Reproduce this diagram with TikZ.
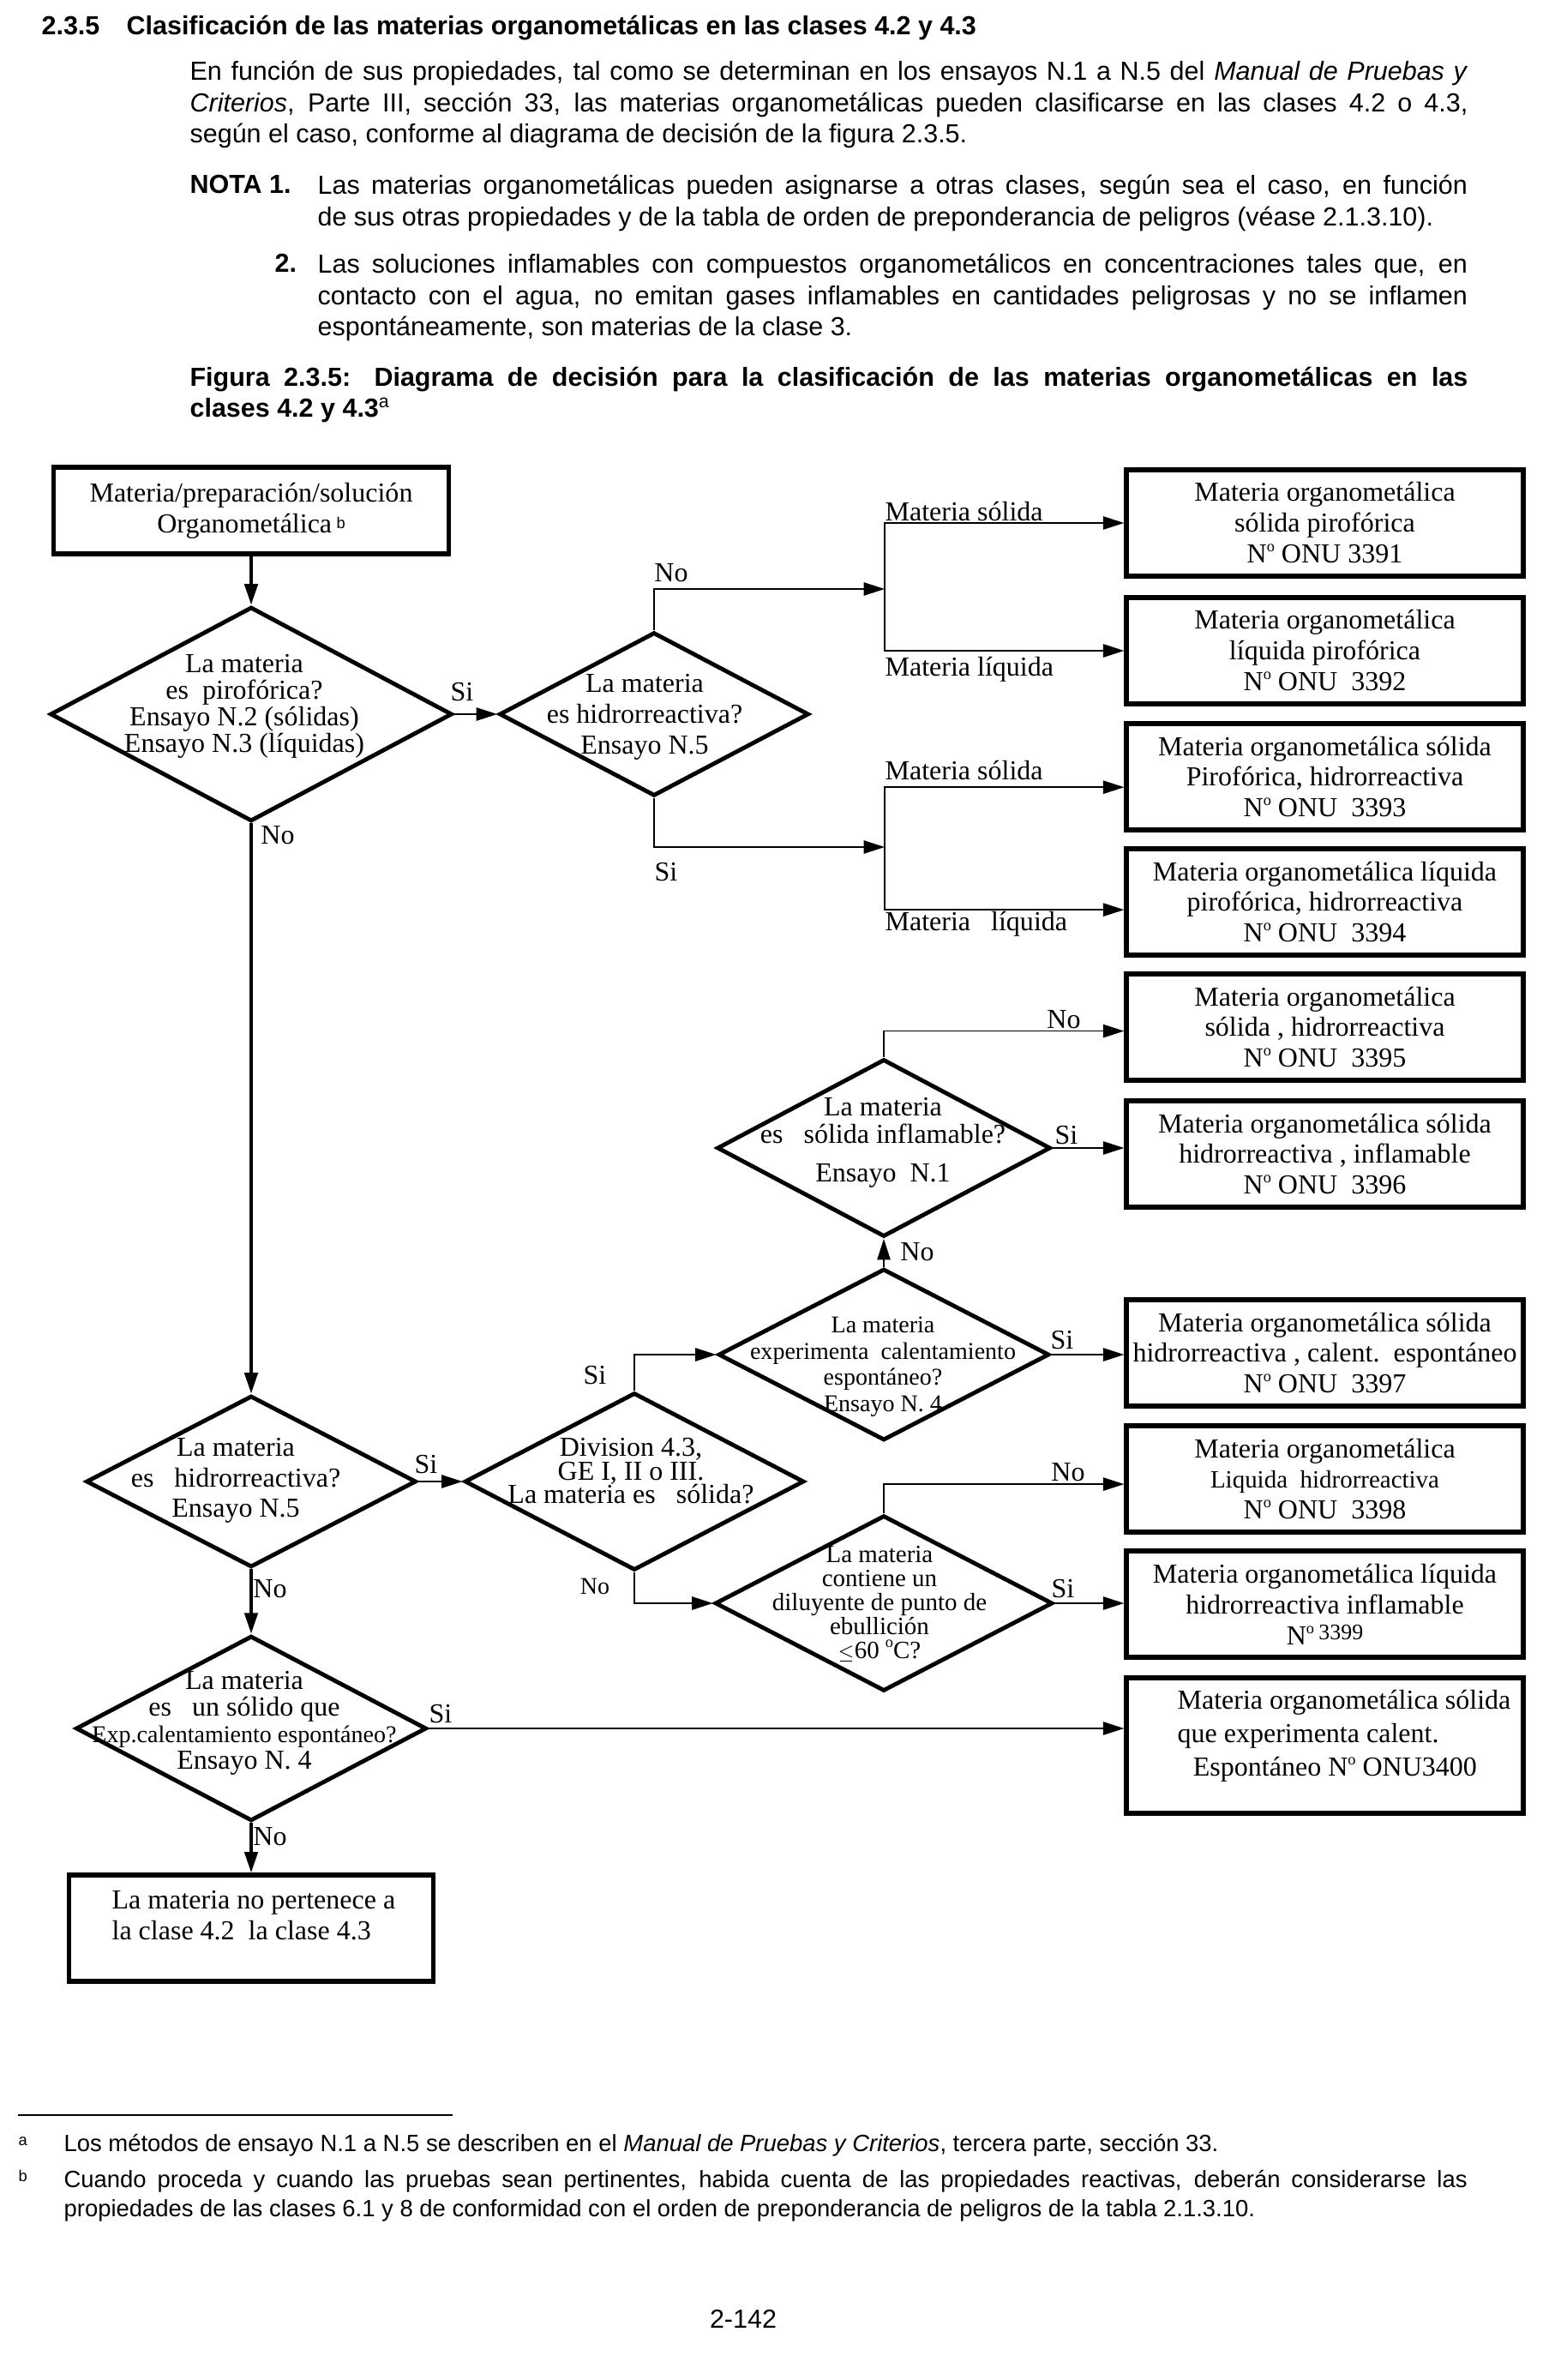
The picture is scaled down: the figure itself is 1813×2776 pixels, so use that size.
\documentclass[tikz,border=0pt]{standalone}
\usepackage{fontspec}
\setmainfont{Liberation Serif}
\setsansfont{Liberation Sans}
\usetikzlibrary{arrows.meta, shapes.geometric, positioning}

\newcommand{\chartfont}{\fontsize{10.5}{11.8}\selectfont}
\newcommand{\chartsmall}{\fontsize{9.2}{10}\selectfont}
\newcommand{\bodyfont}{\sffamily\fontsize{10}{11.9}\selectfont}
\newcommand{\notefont}{\sffamily\fontsize{9}{11.2}\selectfont}
\newcommand{\supo}{\raisebox{4.3pt}{\fontsize{6}{6}\selectfont o}}
\newcommand{\ordo}{N\supo}

\begin{document}
\begin{tikzpicture}[
  x=0.328pt, y=-0.328pt,
  >={Triangle[length=8pt, width=5pt]},
  startbox/.style={draw, line width=1.7pt, minimum width=151.2pt, minimum height=33.1pt,
    inner sep=0pt, align=center, font=\chartfont},
  unbox/.style={draw, line width=1.7pt, minimum width=151.9pt, minimum height=40.7pt,
    inner sep=0pt, align=center, font=\chartfont},
  decision/.style={draw, diamond, line width=1.6pt, inner sep=0pt},
  dtext/.style={align=center, font=\chartfont, inner sep=0pt},
  edgelbl/.style={font=\chartfont, inner sep=0pt},
  mainarrow/.style={->, line width=1.3pt},
  sidearrow/.style={->, line width=0.6pt},
  bodytxt/.style={anchor=north west, inner sep=0pt, align=justify, font=\bodyfont},
]

% Page
\fill[white] (0,0) rectangle (1813,2776);
\useasboundingbox (0,0) rectangle (1813,2776);

% === Heading and notes ===
\node[anchor=base west, inner sep=0pt, font=\bodyfont\bfseries] (secnum) at (48,41) {2.3.5};
\node[anchor=base west, inner sep=0pt, font=\bodyfont\bfseries] (sectitle) at (147,41)
  {Clasificación de las materias organometálicas en las clases 4.2 y 4.3};

\node[bodytxt, text width=489pt] (intro) at (221,68)
  {\noindent\strut En función de sus propiedades, tal como se determinan en los ensayos N.1 a N.5 del \textit{Manual de Pruebas y}\linebreak
   \textit{Criterios}, Parte III, sección 33, las materias organometálicas pueden clasificarse en las clases 4.2 o 4.3,\linebreak
   según el caso, conforme al diagrama de decisión de la figura 2.3.5.};

\node[anchor=base west, inner sep=0pt, font=\bodyfont\bfseries] (notaone) at (221,226) {NOTA 1.};
\node[bodytxt, text width=440pt] (notaonetxt) at (370,201)
  {\noindent\strut\parfillskip=0pt Las materias organometálicas pueden asignarse a otras clases, según sea el caso, en función\linebreak
   de sus otras propiedades y de la tabla de orden de preponderancia de peligros (véase 2.1.3.10).};

\node[anchor=base west, inner sep=0pt, font=\bodyfont\bfseries] (notatwo) at (320,318) {2.};
\node[bodytxt, text width=440pt] (notatwotxt) at (370,293)
  {\noindent\strut Las soluciones inflamables con compuestos organometálicos en concentraciones tales que, en\linebreak
   contacto con el agua, no emitan gases inflamables en cantidades peligrosas y no se inflamen\linebreak
   espontáneamente, son materias de la clase 3.};

\node[bodytxt, text width=489pt, font=\bodyfont\bfseries] (figcap) at (221,424)
  {\noindent\strut Figura 2.3.5: Diagrama de decisión para la clasificación de las materias organometálicas en las\linebreak
   clases 4.2 y 4.3\textsuperscript{\mdseries a}};

% === Left column ===
\node[startbox] (start) at (293,595.5)
  {Materia/preparación/solución\\Organometálica\,\raisebox{1.5pt}{\sffamily\fontsize{6}{6}\selectfont b}};

\node[decision, minimum width=153.8pt, minimum height=82pt] (pyro) at (293,833) {};
\node[dtext, font=\fontsize{10.5}{10.2}\selectfont] (pyrotxt) at (285,824)
  {La materia\\es\ \ pirofórica?\\Ensayo N.2 (sólidas)\\Ensayo N.3 (líquidas)};

\node[decision, minimum width=126.3pt, minimum height=65.6pt] (water2) at (293,1728) {};
\node[dtext, font=\fontsize{10.5}{11.6}\selectfont] (water2txt) at (275,1727)
  {La materia\\es\ \ \ hidrorreactiva?\\Ensayo N.5};

\node[decision, minimum width=134.2pt, minimum height=70.8pt] (selfheat) at (293,2016) {};
\node[dtext, font=\fontsize{10.5}{10.2}\selectfont] (selfheattxt) at (285,2010)
  {La materia\\es\ \ \ un sólido que\\{\fontsize{9.2}{10.2}\selectfont Exp.calentamiento espontáneo?}\\Ensayo N. 4};

\node[unbox, minimum width=139.4pt] (none) at (293,2249) {};
\node[anchor=west, align=left, inner sep=0pt, font=\chartfont] (nonetxt) at (130,2234)
  {La materia no pertenece a\\la clase 4.2\ \ la clase 4.3};

% === Middle column ===
\node[decision, minimum width=118.4pt, minimum height=62.6pt] (water) at (763,833) {};
\node[dtext] (watertxt) at (752,836) {La materia\\es hidrorreactiva?\\Ensayo N.5};

\node[decision, minimum width=129.9pt, minimum height=67.9pt] (div43) at (740,1728) {};
\node[dtext, font=\fontsize{10.5}{9}\selectfont] (div43txt) at (736,1716)
  {Division 4.3,\\GE I, II o III.\\La materia es\ \ \ sólida?};

\node[decision, minimum width=127.6pt, minimum height=67.9pt] (flam) at (1031,1339) {};
\node[dtext] (flamtxt) at (1030,1333)
  {La materia\\[-1.5pt]es\ \ \ sólida inflamable?\\[3pt]Ensayo\ \ N.1};

\node[decision, minimum width=126.6pt, minimum height=65.6pt] (heat) at (1031,1580) {};
\node[dtext, font=\chartsmall] (heattxt) at (1030,1594)
  {La materia\\experimenta\ \ calentamiento\\espontáneo?\\Ensayo N. 4};

\node[decision, minimum width=129.2pt, minimum height=67.2pt] (dil) at (1031,1870) {};
\node[dtext, font=\fontsize{9.5}{9.2}\selectfont] (diltxt) at (1026,1871)
  {La materia\\contiene un\\diluyente de punto de\\ebullición\\{\scriptsize$\leq$}60 \supo C?};

% === Right column: UN numbers ===
\node[unbox] (un3391) at (1545.5,610) {Materia organometálica\\sólida pirofórica\\\ordo\ ONU 3391};
\node[unbox] (un3392) at (1545.5,759) {Materia organometálica\\líquida pirofórica\\\ordo\ ONU\ \ 3392};
\node[unbox] (un3393) at (1545.5,906) {Materia organometálica sólida\\Pirofórica, hidrorreactiva\\\ordo\ ONU\ \ 3393};
\node[unbox] (un3394) at (1545.5,1052) {Materia organometálica líquida\\pirofórica, hidrorreactiva\\\ordo\ ONU\ \ 3394};
\node[unbox] (un3395) at (1545.5,1198) {Materia organometálica\\sólida , hidrorreactiva\\\ordo\ ONU\ \ 3395};
\node[unbox] (un3396) at (1545.5,1346) {Materia organometálica sólida\\hidrorreactiva , inflamable\\\ordo\ ONU\ \ 3396};
\node[unbox] (un3397) at (1545.5,1578) {Materia organometálica sólida\\hidrorreactiva , calent.\ \ espontáneo\\\ordo\ ONU\ \ 3397};
\node[unbox] (un3398) at (1545.5,1725) {Materia organometálica\\{\fontsize{9.5}{11.8}\selectfont Liquida\ \ hidrorreactiva}\\\ordo\ ONU\ \ 3398};
\node[unbox] (un3399) at (1545.5,1871) {Materia organometálica líquida\\hidrorreactiva inflamable\\\ordo\,\raisebox{2pt}{\fontsize{8.5}{9}\selectfont 3399}};
\node[unbox, minimum height=51.8pt] (un3400) at (1545.5,2036) {};
\node[anchor=west, align=left, inner sep=0pt, font=\fontsize{10.5}{12.8}\selectfont] (un3400txt) at (1373,2025)
  {Materia organometálica sólida\\que experimenta calent.\\\hspace{6pt}Espontáneo \ordo\ ONU3400};

% === Connectors ===
\draw[mainarrow] (start.south) -- (pyro.north);
\draw[mainarrow] (pyro.south) -- (water2.north);
\draw[mainarrow] (water2.south) -- (selfheat.north);
\draw[mainarrow] (selfheat.south) -- (none.north);
\draw[sidearrow] (pyro.east) -- (water.west);
\draw[sidearrow] (water2.east) -- (div43.west);

\coordinate (nojoin) at (1032,687);
\coordinate (sijoin) at (1032,988);
\draw[sidearrow] (water.north) |- (nojoin);
\draw[sidearrow] (nojoin) |- (un3391.west);
\draw[sidearrow] (nojoin) |- (un3392.west);
\draw[sidearrow] (water.south) |- (sijoin);
\draw[sidearrow] (sijoin) |- ([yshift=-4pt]un3393.west);
\draw[sidearrow] (sijoin) |- ([yshift=-3pt]un3394.west);

\draw[sidearrow] (flam.north) |- ([yshift=-1.5pt]un3395.west);
\draw[sidearrow] (flam.east) -- (flam.east -| un3396.west);
\draw[sidearrow] (heat.north) -- (flam.south);
\draw[sidearrow] (heat.east) -- (heat.east -| un3397.west);
\draw[sidearrow] (div43.north) |- (heat.west);
\draw[sidearrow] (div43.south) |- (dil.west);
\draw[sidearrow] (dil.north) |- ([yshift=-2pt]un3398.west);
\draw[sidearrow] (dil.east) -- (dil.east -| un3399.west);
\draw[sidearrow] (selfheat.east) -- (selfheat.east -| un3400.west);

% === Connector labels ===
\node[edgelbl] (lpyrono) at (324,974) {No};
\node[edgelbl] (lpyrosi) at (539,807) {Si};
\node[edgelbl] (lwaterno) at (783,668) {No};
\node[edgelbl] (lwatersi) at (777,1017) {Si};
\node[edgelbl, anchor=west] (lsolone) at (1032,597) {Materia sólida};
\node[edgelbl, anchor=west] (lliqone) at (1032,781) {Materia líquida};
\node[edgelbl, anchor=west] (lsoltwo) at (1032,899) {Materia sólida};
\node[edgelbl, anchor=west] (lliqtwo) at (1032,1078) {Materia\ \ \ líquida};
\node[edgelbl] (lflamno) at (1241,1189) {No};
\node[edgelbl] (lflamsi) at (1244,1324) {Si};
\node[edgelbl] (lheatno) at (1070,1460) {No};
\node[edgelbl] (lheatsi) at (1239,1563) {Si};
\node[edgelbl] (ldilno) at (1246,1717) {No};
\node[edgelbl] (ldilsi) at (1240,1853) {Si};
\node[edgelbl] (ldivsi) at (694,1604) {Si};
\node[edgelbl, font=\chartsmall] (ldivno) at (694,1850) {No};
\node[edgelbl] (lwatertwosi) at (497,1708) {Si};
\node[edgelbl] (lwatertwono) at (315,1853) {No};
\node[edgelbl] (lselfsi) at (514,1999) {Si};
\node[edgelbl] (lselfno) at (315,2142) {No};

% === Footnotes ===
\draw[line width=0.6pt] (21,2467) -- (528,2467);
\node[anchor=base west, inner sep=0pt, font=\sffamily\fontsize{6}{6}\selectfont] (fnmarka) at (21,2502) {a};
\node[anchor=base west, inner sep=0pt, font=\notefont] (fntexta) at (74,2509)
  {Los métodos de ensayo N.1 a N.5 se describen en el \textit{Manual de Pruebas y Criterios}, tercera parte, sección 33.};
\node[anchor=base west, inner sep=0pt, font=\sffamily\fontsize{6}{6}\selectfont] (fnmarkb) at (21,2544) {b};
\node[bodytxt, font=\notefont, text width=537pt] (fntextb) at (74,2527)
  {\noindent\strut Cuando proceda y cuando las pruebas sean pertinentes, habida cuenta de las propiedades reactivas, deberán considerarse las\linebreak
   propiedades de las clases 6.1 y 8 de conformidad con el orden de preponderancia de peligros de la tabla 2.1.3.10.};
\node[anchor=base, inner sep=0pt, font=\bodyfont] (pagenum) at (867,2715) {2-142};

\end{tikzpicture}
\end{document}
